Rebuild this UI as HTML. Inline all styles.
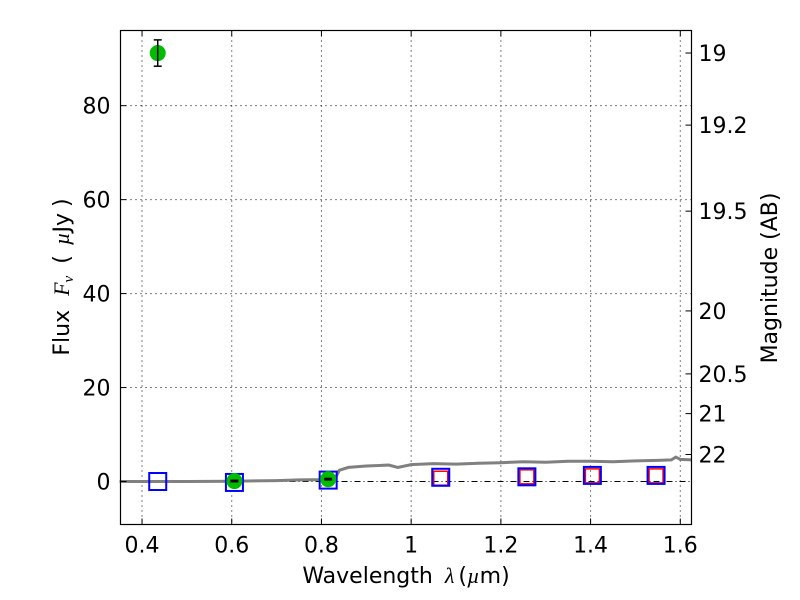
<!DOCTYPE html>
<html><head><meta charset="utf-8"><style>
body{margin:0;background:#fff;}
svg{display:block;font-family:"DejaVu Sans","Liberation Sans",sans-serif;}
</style></head><body>
<svg id="chart" width="800" height="600" viewBox="0 0 800 600" xmlns="http://www.w3.org/2000/svg">
<g id="grid"></g>
<g id="spec"></g>
<g id="marks"></g>
<rect x="120.5" y="30.5" width="571" height="494" fill="none" stroke="#000" stroke-width="1.2"/>
<g id="axes" font-size="22"></g>
<text x="406" y="583" font-size="22" text-anchor="middle">Wavelength<tspan dx="12" font-family="Liberation Serif" font-style="italic">λ</tspan><tspan dx="4">(</tspan><tspan font-family="Liberation Serif" font-style="italic">µ</tspan>m)</text>
<text transform="translate(69,277) rotate(-90)" font-size="22" text-anchor="middle">Flux<tspan dx="14" font-family="Liberation Serif" font-style="italic">F</tspan><tspan font-family="Liberation Serif" font-style="italic" font-size="15" dy="4">ν</tspan><tspan dx="12" dy="-4">(</tspan><tspan dx="10" font-family="Liberation Serif" font-style="italic">µ</tspan>Jy<tspan dx="6">)</tspan></text>
<text transform="translate(777,278) rotate(-90)" font-size="22" text-anchor="middle">Magnitude (AB)</text>
</svg>
<script>
const xTicks=[0.4,0.6,0.8,1.0,1.2,1.4,1.6];
const xTickLabels=["0.4","0.6","0.8","1","1.2","1.4","1.6"];
const yTicks=[0,20,40,60,80];
const magTicks=[19,19.2,19.5,20,20.5,21,22];
const magLabels=["19","19.2","19.5","20","20.5","21","22"];
const greenX=[0.435,0.606,0.815];
const greenY=[91.2,0.1,0.5];
const greenErr=[2.8,0.15,0.15];
const blueX=[0.435,0.606,0.815,1.066,1.258,1.404,1.546];
const blueY=[0.0,-0.2,0.3,0.9,1.0,1.3,1.3];
const redX=[1.066,1.258,1.404,1.546];
const redY=[0.7,1.0,1.2,1.2];
const specX=[0.35,0.5,0.6,0.7,0.75,0.8,0.83,0.84,0.86,0.9,0.95,0.97,1.0,1.05,1.1,1.15,1.2,1.25,1.3,1.35,1.4,1.45,1.5,1.55,1.58,1.59,1.6,1.625];
const specY=[0.0,0.0,0.05,0.2,0.35,0.4,0.6,2.4,3.0,3.3,3.5,3.0,3.6,3.8,3.7,3.9,4.0,4.2,4.1,4.3,4.3,4.2,4.4,4.5,4.6,5.2,4.7,4.6];
const X0=0.352,X1=1.625,Y0=-9.15,Y1=96,L=120.5,R=691.5,T=30.5,B=524.5;
const sx=v=>L+(v-X0)/(X1-X0)*(R-L);
const sy=v=>B-(v-Y0)/(Y1-Y0)*(B-T);
const magToFlux=m=>3631e6*Math.pow(10,-0.4*m);
const NS="http://www.w3.org/2000/svg";
function mk(tag,attrs,parent){const e=document.createElementNS(NS,tag);for(const k in attrs)e.setAttribute(k,attrs[k]);parent.appendChild(e);return e;}
const grid=document.getElementById('grid'),axes=document.getElementById('axes'),spec=document.getElementById('spec'),marks=document.getElementById('marks');
xTicks.forEach((t,i)=>{const x=sx(t);
 const g=mk('line',{x1:x,x2:x,y1:T,y2:B,stroke:'#000','stroke-width':1,'stroke-dasharray':'1,4'},grid);
 
 
 mk('line',{x1:x,x2:x,y1:B,y2:B-6,stroke:'#000'},axes);
 mk('line',{x1:x,x2:x,y1:T,y2:T+6,stroke:'#000'},axes);
 const tx=mk('text',{x:x,y:B+28,'text-anchor':'middle'},axes);tx.textContent=xTickLabels[i];
 
 
});
yTicks.forEach(t=>{const y=sy(t);
 const g=mk('line',{x1:L,x2:R,y1:y,y2:y,stroke:'#000','stroke-width':1,'stroke-dasharray':t===0?'6,3,1,3':'1,4'},grid);
 
 
 mk('line',{x1:L,x2:L+6,y1:y,y2:y,stroke:'#000'},axes);
 const tx=mk('text',{x:L-10,y:y+8,'text-anchor':'end'},axes);tx.textContent=String(t);
 
 
});
magTicks.forEach((m,i)=>{const y=sy(magToFlux(m));
 mk('line',{x1:R,x2:R-6,y1:y,y2:y,stroke:'#000'},axes);
 const tx=mk('text',{x:R+7,y:y+8,'text-anchor':'start'},axes);tx.textContent=magLabels[i];
 
 
});
const pts=specX.map((x,i)=>sx(x)+','+sy(specY[i])).join(' ');
const pl=mk('polyline',{points:pts,fill:'none',stroke:'#808080','stroke-width':3},spec);


redX.forEach((x,i)=>{const r=mk('rect',{x:sx(x)-7,y:sy(redY[i])-7,width:14,height:14,fill:'none',stroke:'#ff0000','stroke-width':1.5},marks);
 
 
});
blueX.forEach((x,i)=>{const r=mk('rect',{x:sx(x)-8.5,y:sy(blueY[i])-8.5,width:17,height:17,fill:'none',stroke:'#0000ff','stroke-width':2},marks);
 
 
});
greenX.forEach((x,i)=>{const cx=sx(x),cy=sy(greenY[i]);
 const c=mk('circle',{cx:cx,cy:cy,r:8,fill:'#00bb00'},marks);
 
 
 const y1=sy(greenY[i]-greenErr[i]),y2=sy(greenY[i]+greenErr[i]);
 mk('line',{x1:cx,x2:cx,y1:y1,y2:y2,stroke:'#000','stroke-width':1.5},marks);
 mk('line',{x1:cx-4,x2:cx+4,y1:y1,y2:y1,stroke:'#000','stroke-width':1.5},marks);
 mk('line',{x1:cx-4,x2:cx+4,y1:y2,y2:y2,stroke:'#000','stroke-width':1.5},marks);
});
</script>
</body></html>
